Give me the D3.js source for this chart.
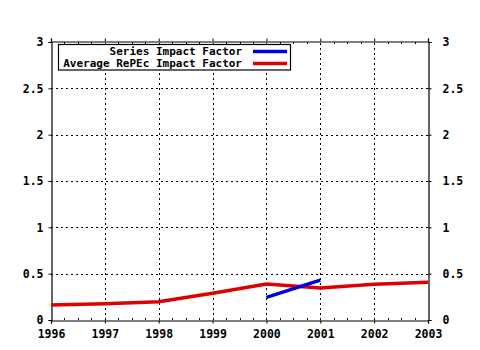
<!DOCTYPE html>
<html><head><meta charset="utf-8">
<script src="https://cdn.jsdelivr.net/npm/d3@7"></script>
<style>body{margin:0;background:#fff}svg{display:block}text{font-family:"DejaVu Sans Mono",monospace;font-weight:bold;font-size:11.5px;fill:#000}</style>
</head><body>
<script>
const years = [1996,1997,1998,1999,2000,2001,2002,2003];
const avgRepec = [0.162,0.176,0.198,0.288,0.388,0.345,0.385,0.407];
const seriesYears = [2000,2001];
const seriesIF = [0.245,0.43];
const yTicks = [0,0.5,1,1.5,2,2.5,3];
const yTickLabels = ["0","0.5","1","1.5","2","2.5","3"];
const legendLabels = ["Series Impact Factor","Average RePEc Impact Factor"];
const legendColors = ["#0000dd","#dd0000"];

const W=480,H=350;
const svg=d3.select("body").append("svg").attr("width",W).attr("height",H);
const x=d3.scaleLinear().domain([1996,2003]).range([51,428]);
const y=d3.scaleLinear().domain([0,3]).range([320,42]);

// grid
const g=svg.append("g");
g.selectAll(".gx").data(years.slice(1,-1)).join("line")
 .attr("x1",d=>Math.round(x(d))+0.5).attr("x2",d=>Math.round(x(d))+0.5)
 .attr("y1",y(0)).attr("y2",y(3)).attr("stroke","#000").attr("stroke-dasharray","2,3").attr("stroke-width",1);
g.selectAll(".gy").data(yTicks.slice(1,-1)).join("line")
 .attr("y1",d=>Math.round(y(d))+0.5).attr("y2",d=>Math.round(y(d))+0.5)
 .attr("x1",x(1996)).attr("x2",x(2003)).attr("stroke","#000").attr("stroke-dasharray","2,3").attr("stroke-width",1);

// axes
const fmtY=(d,i)=>yTickLabels[yTicks.indexOf(d)];
const axL=d3.axisLeft(y).tickValues(yTicks).tickFormat(fmtY).tickSize(3).tickPadding(5);
const axR=d3.axisRight(y).tickValues(yTicks).tickFormat(fmtY).tickSize(3).tickPadding(11);
const axB=d3.axisBottom(x).tickValues(years).tickFormat(d3.format("d")).tickSize(3).tickPadding(6);
const axT=d3.axisTop(x).tickValues(years).tickFormat("").tickSize(3);
function style(sel){sel.selectAll("path,line").attr("stroke","#000");sel.selectAll("text").style("font-size","11.5px").style("font-family","'DejaVu Sans Mono',monospace").style("font-weight","bold").attr("fill","#000");}
svg.append("g").attr("transform","translate(51.5,0)").call(axL).call(style);
svg.append("g").attr("transform","translate(428.5,0)").call(axR).call(style);
svg.append("g").attr("transform","translate(0,320.5)").call(axB).call(style);
svg.append("g").attr("transform","translate(0,41.5)").call(axT).call(style);
svg.selectAll(".domain").attr("stroke-width",1.2);

// minor ticks (quarters) inward on top and bottom
const minor=[];
for(let i=0;i<years.length-1;i++){for(let q=1;q<4;q++)minor.push(years[i]+q/4);}
svg.append("g").selectAll("line").data(minor).join("line")
 .attr("x1",d=>Math.round(x(d))+0.5).attr("x2",d=>Math.round(x(d))+0.5)
 .attr("y1",320).attr("y2",318).attr("stroke","#000");
svg.append("g").selectAll("line").data(minor).join("line")
 .attr("x1",d=>Math.round(x(d))+0.5).attr("x2",d=>Math.round(x(d))+0.5)
 .attr("y1",42).attr("y2",44).attr("stroke","#000");

// lines
const line=d3.line().x(d=>x(d[0])).y(d=>y(d[1]));
svg.append("path").datum(years.map((yr,i)=>[yr,avgRepec[i]]))
 .attr("d",line).attr("fill","none").attr("stroke",legendColors[1]).attr("stroke-width",3.5);
svg.append("path").datum(seriesYears.map((yr,i)=>[yr,seriesIF[i]]))
 .attr("d",line).attr("fill","none").attr("stroke",legendColors[0]).attr("stroke-width",3.5);

// legend
const lg=svg.append("g");
lg.append("rect").attr("x",58.5).attr("y",44.5).attr("width",232).attr("height",25.5)
 .attr("fill","#fff").attr("stroke","#000").attr("stroke-width",1.2);
legendLabels.forEach((t,i)=>{
  const cy=51.5+i*12;
  lg.append("text").attr("x",242).attr("y",cy+3.5).attr("text-anchor","end")
    .style("font-size","11px").text(t);
  lg.append("line").attr("x1",253).attr("x2",287).attr("y1",cy).attr("y2",cy)
    .attr("stroke",legendColors[i]).attr("stroke-width",3.5);
});
</script>
</body></html>
